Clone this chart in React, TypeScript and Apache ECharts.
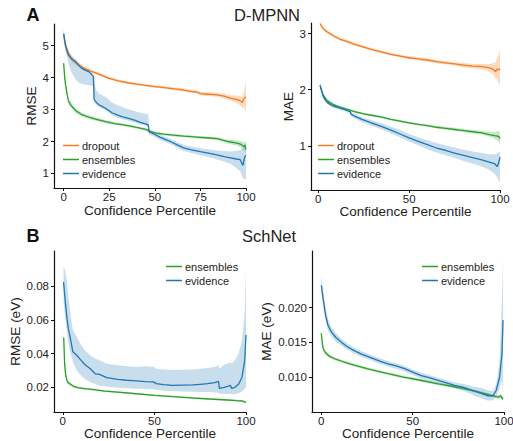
import React, { useEffect, useRef } from "react";
import * as echarts from "echarts";

// [percentile, mean, lower, upper]
type Pt = [number, number, number, number];

const mpnnRmseDropout: Pt[] = [
  [0, 5.32, 5.12, 5.5], [1, 5.02, 4.88, 5.16], [2, 4.86, 4.74, 4.98], [3, 4.72, 4.62, 4.83],
  [5, 4.55, 4.46, 4.64], [7, 4.45, 4.38, 4.53], [9, 4.37, 4.3, 4.44], [12, 4.27, 4.21, 4.33],
  [15, 4.2, 4.15, 4.26], [18, 4.14, 4.09, 4.19], [21, 4.07, 4.02, 4.12], [25, 3.98, 3.94, 4.03],
  [30, 3.9, 3.86, 3.94], [35, 3.84, 3.8, 3.88], [40, 3.8, 3.76, 3.84], [45, 3.76, 3.72, 3.8],
  [50, 3.72, 3.68, 3.76], [55, 3.69, 3.65, 3.73], [62, 3.64, 3.59, 3.69], [66, 3.61, 3.56, 3.66],
  [70, 3.57, 3.52, 3.62], [73, 3.55, 3.5, 3.6], [75, 3.5, 3.45, 3.56], [80, 3.48, 3.42, 3.54],
  [84, 3.46, 3.4, 3.53], [88, 3.42, 3.35, 3.5], [91.5, 3.36, 3.28, 3.45], [94, 3.33, 3.23, 3.44],
  [96, 3.3, 3.17, 3.43], [97, 3.26, 3.11, 3.41], [98, 3.22, 3.05, 3.4], [98.7, 3.32, 3.1, 3.55],
  [99.3, 3.36, 3.02, 3.65], [100, 3.4, 2.92, 3.95],
];
const mpnnRmseEnsembles: Pt[] = [
  [0, 4.45, 4.33, 4.57], [0.5, 4.05, 3.93, 4.17], [1, 3.78, 3.67, 3.89], [2, 3.45, 3.36, 3.55],
  [2.6, 3.27, 3.19, 3.36], [4, 3.13, 3.06, 3.21], [6.5, 2.97, 2.9, 3.05], [10, 2.84, 2.78, 2.91],
  [13.8, 2.76, 2.7, 2.82], [18, 2.69, 2.64, 2.75], [23, 2.62, 2.57, 2.67], [28, 2.56, 2.52, 2.6],
  [32, 2.53, 2.49, 2.57], [36, 2.49, 2.45, 2.53], [40, 2.44, 2.4, 2.48], [45, 2.38, 2.34, 2.42],
  [47.6, 2.31, 2.27, 2.35], [50, 2.27, 2.23, 2.31], [55, 2.23, 2.19, 2.27], [60, 2.2, 2.16, 2.24],
  [65.8, 2.17, 2.13, 2.21], [70, 2.15, 2.11, 2.19], [75, 2.13, 2.09, 2.17], [80, 2.11, 2.07, 2.15],
  [84, 2.09, 2.04, 2.14], [86.8, 2.05, 2.0, 2.1], [90, 2.0, 1.94, 2.06], [95, 1.95, 1.87, 2.03],
  [97, 1.92, 1.82, 2.02], [98.7, 1.84, 1.72, 1.97], [99.5, 1.88, 1.72, 2.03], [100, 1.75, 1.58, 1.92],
];
const mpnnRmseEvidence: Pt[] = [
  [0, 5.38, 5.2, 5.5], [1, 5.02, 4.85, 5.15], [2, 4.8, 4.6, 4.92], [2.6, 4.71, 4.45, 4.82],
  [4, 4.6, 4.2, 4.7], [6.5, 4.5, 3.95, 4.58], [8, 4.4, 3.85, 4.48], [10, 4.29, 3.8, 4.36],
  [12, 4.23, 3.78, 4.3], [13.8, 4.19, 3.77, 4.26], [15.6, 4.08, 3.75, 4.15], [16.3, 4.04, 3.74, 4.12],
  [16.7, 3.32, 3.25, 3.9], [18, 3.22, 3.15, 3.6], [19.3, 3.15, 3.08, 3.5], [21, 3.1, 3.03, 3.45],
  [23, 3.04, 2.97, 3.4], [26.5, 2.9, 2.82, 3.22], [30, 2.82, 2.74, 3.12], [32, 2.78, 2.7, 3.08],
  [36, 2.72, 2.64, 3.0], [39.3, 2.66, 2.58, 2.95], [42, 2.6, 2.53, 2.9], [45, 2.55, 2.49, 2.87],
  [46.4, 2.52, 2.46, 2.86], [46.9, 2.3, 2.22, 2.38], [48, 2.28, 2.2, 2.36], [50, 2.22, 2.14, 2.3],
  [53, 2.13, 2.05, 2.21], [56, 2.06, 1.98, 2.14], [58.5, 2.0, 1.92, 2.09], [62, 1.9, 1.81, 1.99],
  [65.8, 1.8, 1.7, 1.9], [70, 1.74, 1.64, 1.84], [75, 1.68, 1.57, 1.79], [80, 1.63, 1.51, 1.75],
  [84, 1.58, 1.44, 1.72], [88, 1.53, 1.37, 1.7], [91.5, 1.49, 1.3, 1.69], [94, 1.46, 1.2, 1.7],
  [96.8, 1.43, 1.06, 1.73], [98.3, 1.25, 0.85, 1.8], [99.2, 1.5, 0.82, 1.9], [100, 1.57, 0.8, 1.95],
];

const mpnnMaeDropout: Pt[] = [
  [1, 3.18, 3.14, 3.22], [2, 3.12, 3.09, 3.16], [3, 3.08, 3.05, 3.11], [5, 3.03, 3.0, 3.06],
  [7, 2.99, 2.96, 3.02], [9, 2.95, 2.92, 2.98], [12, 2.9, 2.88, 2.93], [15, 2.87, 2.84, 2.9],
  [20, 2.81, 2.79, 2.84], [25, 2.76, 2.74, 2.79], [30, 2.71, 2.69, 2.74], [35, 2.67, 2.65, 2.7],
  [40, 2.63, 2.61, 2.66], [45, 2.6, 2.58, 2.63], [50, 2.57, 2.55, 2.6], [55, 2.55, 2.52, 2.58],
  [60, 2.53, 2.5, 2.56], [65, 2.5, 2.47, 2.53], [70, 2.48, 2.45, 2.51], [75, 2.46, 2.43, 2.49],
  [80, 2.44, 2.4, 2.48], [85, 2.42, 2.38, 2.46], [90, 2.41, 2.36, 2.46], [93, 2.4, 2.34, 2.46],
  [95, 2.38, 2.3, 2.46], [96.5, 2.36, 2.26, 2.48], [97.5, 2.32, 2.2, 2.48], [98.5, 2.37, 2.18, 2.58],
  [99.3, 2.35, 2.12, 2.64], [100, 2.38, 2.08, 2.7],
];
const mpnnMaeEnsembles: Pt[] = [
  [1, 2.07, 2.03, 2.11], [2, 1.97, 1.94, 2.0], [3, 1.89, 1.86, 1.92], [5, 1.8, 1.78, 1.83],
  [8, 1.74, 1.72, 1.77], [11, 1.7, 1.68, 1.72], [15, 1.66, 1.64, 1.68], [20, 1.61, 1.59, 1.63],
  [25, 1.57, 1.55, 1.59], [30, 1.54, 1.52, 1.56], [35, 1.51, 1.49, 1.53], [40, 1.47, 1.45, 1.49],
  [45, 1.44, 1.42, 1.46], [50, 1.41, 1.39, 1.43], [55, 1.38, 1.36, 1.4], [60, 1.36, 1.34, 1.38],
  [65, 1.33, 1.31, 1.36], [70, 1.31, 1.29, 1.34], [75, 1.29, 1.27, 1.32], [80, 1.27, 1.24, 1.3],
  [85, 1.25, 1.22, 1.28], [90, 1.23, 1.2, 1.27], [94, 1.2, 1.16, 1.25], [97, 1.18, 1.12, 1.25],
  [99, 1.17, 1.08, 1.27], [100, 1.13, 1.02, 1.24],
];
const mpnnMaeEvidence: Pt[] = [
  [1, 2.08, 2.03, 2.13], [2, 1.96, 1.92, 2.0], [3, 1.86, 1.82, 1.9], [5, 1.77, 1.74, 1.81],
  [8, 1.71, 1.68, 1.75], [11, 1.68, 1.65, 1.72], [15, 1.64, 1.61, 1.68], [17.5, 1.61, 1.57, 1.65],
  [18.2, 1.56, 1.52, 1.6], [20, 1.53, 1.49, 1.57], [24, 1.47, 1.42, 1.51], [30, 1.4, 1.35, 1.45],
  [35, 1.34, 1.29, 1.4], [40, 1.28, 1.22, 1.34], [45, 1.21, 1.15, 1.28], [50, 1.14, 1.07, 1.21],
  [55, 1.08, 1.01, 1.15], [60, 1.02, 0.94, 1.1], [65, 0.96, 0.88, 1.05], [70, 0.92, 0.83, 1.01],
  [75, 0.87, 0.78, 0.97], [80, 0.83, 0.73, 0.93], [85, 0.79, 0.68, 0.9], [90, 0.75, 0.63, 0.87],
  [94, 0.71, 0.57, 0.85], [97, 0.68, 0.5, 0.85], [98.5, 0.63, 0.43, 0.86], [99.3, 0.7, 0.38, 0.88],
  [100, 0.8, 0.35, 0.9],
];

const schRmseEnsembles: Pt[] = [
  [0.5, 0.0495, 0.045, 0.0548], [1, 0.034, 0.031, 0.038], [1.5, 0.028, 0.026, 0.031],
  [2.2, 0.0242, 0.0228, 0.0258], [3, 0.0226, 0.0215, 0.0238], [4, 0.022, 0.021, 0.023],
  [6, 0.0205, 0.0197, 0.0213], [8, 0.0198, 0.0191, 0.0205], [12, 0.0192, 0.0186, 0.0198],
  [17, 0.0186, 0.018, 0.0192], [23, 0.0178, 0.0173, 0.0183], [30, 0.0172, 0.0167, 0.0177],
  [40, 0.0162, 0.0157, 0.0167], [50, 0.0153, 0.0148, 0.0158], [60, 0.0145, 0.014, 0.015],
  [70, 0.0138, 0.0133, 0.0143], [80, 0.0131, 0.0126, 0.0136], [90, 0.0125, 0.012, 0.013],
  [95, 0.0121, 0.0116, 0.0127], [98, 0.0119, 0.0113, 0.0125], [99, 0.0115, 0.0108, 0.0122],
  [100, 0.0111, 0.0104, 0.0118],
];
const schRmseEvidence: Pt[] = [
  [0.4, 0.0824, 0.07, 0.092], [1.3, 0.0715, 0.062, 0.089], [2.2, 0.0616, 0.053, 0.083],
  [3, 0.055, 0.046, 0.074], [4, 0.0498, 0.041, 0.065], [5, 0.044, 0.037, 0.057],
  [5.5, 0.041, 0.035, 0.054], [7.6, 0.039, 0.03, 0.05], [10, 0.036, 0.027, 0.045],
  [12, 0.0335, 0.025, 0.042], [15, 0.031, 0.023, 0.039], [17.7, 0.028, 0.022, 0.037],
  [20, 0.0277, 0.021, 0.036], [24, 0.0257, 0.0205, 0.034], [30, 0.0247, 0.0198, 0.033],
  [35, 0.0242, 0.0195, 0.0325], [40, 0.0238, 0.0192, 0.032], [45, 0.0234, 0.019, 0.0325],
  [49.5, 0.0232, 0.0188, 0.0322], [51, 0.0222, 0.0185, 0.031], [55, 0.0216, 0.018, 0.0305],
  [60, 0.0212, 0.0178, 0.0303], [65, 0.0213, 0.0176, 0.0304], [71, 0.0214, 0.0174, 0.0306],
  [75, 0.0218, 0.0172, 0.031], [79, 0.0222, 0.0172, 0.0315], [83, 0.0228, 0.017, 0.032],
  [85, 0.0236, 0.0168, 0.033], [85.5, 0.0194, 0.016, 0.031], [88, 0.02, 0.0162, 0.0335],
  [90, 0.0205, 0.016, 0.034], [91.4, 0.0212, 0.0162, 0.035], [92.2, 0.0194, 0.0158, 0.034],
  [94, 0.02, 0.016, 0.036], [96, 0.022, 0.0165, 0.04], [97.8, 0.026, 0.0175, 0.048],
  [99.3, 0.036, 0.019, 0.065], [100, 0.051, 0.02, 0.09],
];

const schMaeEnsembles: Pt[] = [
  [0, 0.0163, 0.0158, 0.0168], [0.5, 0.015, 0.0146, 0.0155], [1, 0.0141, 0.0138, 0.0145],
  [2, 0.0136, 0.0133, 0.0139], [3, 0.0133, 0.0131, 0.0136], [5, 0.0129, 0.0127, 0.0132],
  [7.5, 0.0126, 0.0124, 0.0128], [12, 0.0122, 0.012, 0.0124], [18, 0.0117, 0.0115, 0.0119],
  [25, 0.0112, 0.011, 0.0114], [30, 0.0109, 0.0107, 0.0111], [36.5, 0.0105, 0.0103, 0.0107],
  [45, 0.01, 0.0098, 0.0102], [55, 0.0095, 0.0093, 0.0097], [64, 0.009, 0.0088, 0.0092],
  [73, 0.0086, 0.0084, 0.0088], [82, 0.0081, 0.0079, 0.0083], [91, 0.0075, 0.0073, 0.0077],
  [95, 0.0072, 0.007, 0.0074], [97, 0.0071, 0.0068, 0.0074], [98, 0.0073, 0.007, 0.0076],
  [99.5, 0.0068, 0.0065, 0.0072],
];
const schMaeEvidence: Pt[] = [
  [0, 0.0232, 0.0222, 0.0246], [0.9, 0.0215, 0.0205, 0.0228], [2.2, 0.0191, 0.0181, 0.0203],
  [3.6, 0.0175, 0.0167, 0.0184], [5.5, 0.0165, 0.0158, 0.0172], [8, 0.0157, 0.0151, 0.0163],
  [11, 0.015, 0.0145, 0.0155], [14, 0.0144, 0.014, 0.0149], [18, 0.0138, 0.0134, 0.0142],
  [22, 0.0133, 0.0129, 0.0137], [27, 0.0128, 0.0124, 0.0132], [32, 0.0123, 0.0119, 0.0127],
  [36.5, 0.0119, 0.0115, 0.0123], [41, 0.0116, 0.0112, 0.012], [45.6, 0.0112, 0.0108, 0.0116],
  [50, 0.0107, 0.0103, 0.0111], [54.7, 0.0102, 0.0098, 0.0106], [59, 0.0099, 0.0095, 0.0103],
  [64, 0.0095, 0.0091, 0.0099], [68, 0.0092, 0.0088, 0.0096], [73, 0.0088, 0.0084, 0.0092],
  [78, 0.0085, 0.008, 0.009], [82, 0.0081, 0.0075, 0.0087], [86, 0.0078, 0.0071, 0.0085],
  [89, 0.0075, 0.0068, 0.0083], [91, 0.0073, 0.0066, 0.0081], [94, 0.0073, 0.0066, 0.008],
  [95.8, 0.0081, 0.0072, 0.009], [97.6, 0.01, 0.0085, 0.0125], [98.9, 0.0134, 0.0095, 0.0215],
  [99.5, 0.0182, 0.0075, 0.0273],
];

const legendTop = ["dropout", "ensembles", "evidence"];
const legendBottom = ["ensembles", "evidence"];
const ticksA = [0, 25, 50, 75, 100];
const ticksB = [0, 50, 100];
const yTicks1 = [1, 2, 3, 4, 5];
const yTicks2 = [1, 2, 3];
const yTicks3 = [0.02, 0.04, 0.06, 0.08];
const yTicks4 = [0.01, 0.015, 0.02];

const ORANGE = "#f47c20";
const GREEN = "#2ca02c";
const BLUE = "#1f77b4";
const BAND: Record<string, string> = {
  [ORANGE]: "rgba(244,124,32,0.28)",
  [GREEN]: "rgba(44,160,44,0.25)",
  [BLUE]: "rgba(31,119,180,0.24)",
};
const FONT = "Liberation Sans, Arial, sans-serif";

function band(data: Pt[], color: string, gi: number) {
  return {
    type: "custom",
    name: "band",
    xAxisIndex: gi,
    yAxisIndex: gi,
    silent: true,
    clip: true,
    z: 1,
    data: [[data[0][0], data[0][1]]],
    renderItem: (_p: any, api: any) => {
      const up = data.map((d) => api.coord([d[0], d[3]]));
      const lo = data.slice().reverse().map((d) => api.coord([d[0], d[2]]));
      return { type: "polygon", shape: { points: up.concat(lo) }, style: { fill: BAND[color] } };
    },
  };
}
function line(name: string, data: Pt[], color: string, gi: number) {
  return {
    type: "line",
    name,
    xAxisIndex: gi,
    yAxisIndex: gi,
    showSymbol: false,
    symbol: "none",
    z: 3,
    color,
    lineStyle: { color, width: 1.3 },
    data: data.map((d) => [d[0], d[1]]),
  };
}

const axisCommon = {
  axisLine: { show: true, onZero: false, lineStyle: { color: "#111", width: 1.2 } },
  splitLine: { show: false },
  nameTextStyle: { fontFamily: FONT, fontSize: 13.5, lineHeight: 13.5, color: "#222" },
};

function xAxis(gi: number, min: number, ticks: number[], gap: number, fs: number) {
  return {
    ...axisCommon,
    nameTextStyle: { fontFamily: FONT, fontSize: fs, lineHeight: fs, color: "#222" },
    nameMoveOverlap: false,
    type: "value",
    gridIndex: gi,
    min,
    max: 100,
    name: "Confidence Percentile",
    nameLocation: "middle",
    nameGap: gap,
    axisTick: { show: true, inside: false, length: 3, customValues: ticks, lineStyle: { color: "#111" } },
    axisLabel: { customValues: ticks, margin: 3, lineHeight: 11, fontFamily: FONT, fontSize: 11.5, color: "#222" },
  };
}
function yAxis(gi: number, min: number, max: number, ticks: number[], name: string, gap: number, dec: number) {
  return {
    ...axisCommon,
    type: "value",
    gridIndex: gi,
    min,
    max,
    name,
    nameLocation: "middle",
    nameGap: gap,
    axisTick: { show: true, inside: false, length: 3, customValues: ticks, lineStyle: { color: "#111" } },
    axisLabel: {
      customValues: ticks,
      margin: 5,
      fontFamily: FONT,
      fontSize: 11.5,
      color: "#222",
      formatter: (v: number) => (dec ? v.toFixed(dec) : String(v)),
    },
  };
}
function legend(data: string[], left: number, top: number) {
  return {
    data,
    left,
    top,
    orient: "vertical",
    padding: 0,
    itemWidth: 16,
    itemHeight: 1.5,
    itemGap: 3,
    icon: "rect",
    selectedMode: false,
    textStyle: { fontFamily: FONT, fontSize: 11, color: "#222", padding: [0, 0, 0, -2] },
  };
}

export default function App() {
  const ref = useRef<HTMLDivElement>(null);
  useEffect(() => {
    const chart = echarts.init(ref.current!, null, { renderer: "svg" });
    chart.setOption({
      animation: false,
      backgroundColor: "#fff",
      grid: [
        { left: 54, top: 24, width: 192, height: 164, outerBoundsMode: "none" },
        { left: 311, top: 23, width: 189, height: 167, outerBoundsMode: "none" },
        { left: 54, top: 251, width: 192, height: 161, outerBoundsMode: "none" },
        { left: 312, top: 251, width: 192, height: 161, outerBoundsMode: "none" },
      ],
      xAxis: [
        xAxis(0, -5.3, ticksA, 16, 13.5),
        xAxis(1, -4, ticksB, 15, 13.5),
        xAxis(2, -4.8, ticksB, 15, 13.5),
        xAxis(3, -5.1, ticksB, 15, 13.5),
      ],
      yAxis: [
        yAxis(0, 0.544, 5.68, yTicks1, "RMSE", 14, 0),
        yAxis(1, 0.211, 3.19, yTicks2, "MAE", 11, 0),
        yAxis(2, 0.0054, 0.1007, yTicks3, "RMSE (eV)", 32, 2),
        yAxis(3, 0.00496, 0.02816, yTicks4, "MAE (eV)", 39, 3),
      ],
      legend: [
        legend(legendTop, 63, 140),
        legend(legendTop, 318, 140),
        legend(legendBottom, 166, 261),
        legend(legendBottom, 422, 261),
      ],
      graphic: [
        { type: "text", x: 33, y: 15, style: { text: "A", font: `bold 18px ${FONT}`, fill: "#111", textAlign: "center", textVerticalAlign: "middle" } },
        { type: "text", x: 267, y: 15, style: { text: "D-MPNN", font: `16.5px ${FONT}`, fill: "#222", textAlign: "center", textVerticalAlign: "middle" } },
        { type: "text", x: 33, y: 236, style: { text: "B", font: `bold 18px ${FONT}`, fill: "#111", textAlign: "center", textVerticalAlign: "middle" } },
        { type: "text", x: 269, y: 236, style: { text: "SchNet", font: `16.5px ${FONT}`, fill: "#222", textAlign: "center", textVerticalAlign: "middle" } },
      ],
      series: [
        band(mpnnRmseDropout, ORANGE, 0),
        band(mpnnRmseEnsembles, GREEN, 0),
        band(mpnnRmseEvidence, BLUE, 0),
        line("dropout", mpnnRmseDropout, ORANGE, 0),
        line("ensembles", mpnnRmseEnsembles, GREEN, 0),
        line("evidence", mpnnRmseEvidence, BLUE, 0),
        band(mpnnMaeDropout, ORANGE, 1),
        band(mpnnMaeEnsembles, GREEN, 1),
        band(mpnnMaeEvidence, BLUE, 1),
        line("dropout", mpnnMaeDropout, ORANGE, 1),
        line("ensembles", mpnnMaeEnsembles, GREEN, 1),
        line("evidence", mpnnMaeEvidence, BLUE, 1),
        band(schRmseEnsembles, GREEN, 2),
        band(schRmseEvidence, BLUE, 2),
        line("ensembles", schRmseEnsembles, GREEN, 2),
        line("evidence", schRmseEvidence, BLUE, 2),
        band(schMaeEnsembles, GREEN, 3),
        band(schMaeEvidence, BLUE, 3),
        line("ensembles", schMaeEnsembles, GREEN, 3),
        line("evidence", schMaeEvidence, BLUE, 3),
      ],
    });
    return () => chart.dispose();
  }, []);
  return (
    <div
      ref={ref}
      style={{ position: "fixed", left: 0, top: 0, width: 513, height: 441, background: "#fff" }}
    />
  );
}
